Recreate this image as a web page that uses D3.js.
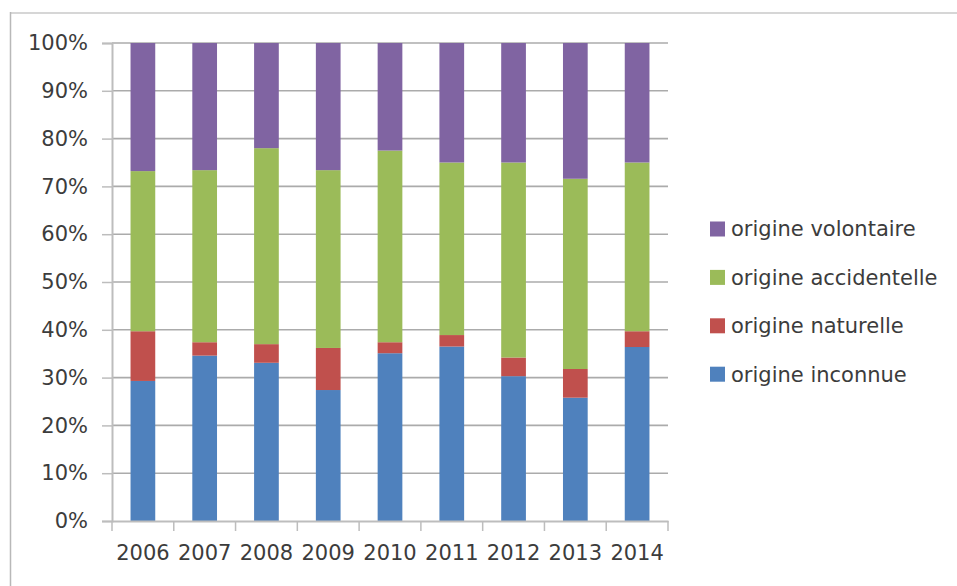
<!DOCTYPE html>
<html>
<head>
<meta charset="utf-8">
<script src="https://cdn.jsdelivr.net/npm/d3@7"></script>
<style>
  html, body { margin: 0; padding: 0; background: #ffffff; }
  svg { display: block; }
  text { font-family: "DejaVu Sans", sans-serif; fill: #3c3c3c; }
</style>
</head>
<body>
<svg id="chart" width="957" height="586"></svg>
<script>
// Years on the category axis
const years = ["2006", "2007", "2008", "2009", "2010", "2011", "2012", "2013", "2014"];

// Share of fires by origin, in percent of the yearly total
const inconnue     = [29.3, 34.6, 33.1, 27.4, 35.1, 36.5, 30.3, 25.8, 36.4];
const naturelle    = [10.4,  2.8,  3.9,  8.8,  2.3,  2.4,  3.9,  6.0,  3.3];
const accidentelle = [33.5, 36.0, 41.0, 37.2, 40.1, 36.1, 40.8, 39.8, 35.3];
const volontaire   = [26.8, 26.6, 22.0, 26.6, 22.5, 25.0, 25.0, 28.4, 25.0];

// Series in stacking order (bottom to top) and their labels
const seriesKeys   = ["inconnue", "naturelle", "accidentelle", "volontaire"];
const seriesLabels = ["origine inconnue", "origine naturelle", "origine accidentelle", "origine volontaire"];
const seriesColors = ["#4f81bd", "#c0504d", "#9bbb59", "#8064a2"];

// Y axis tick values
const yTicks = [0, 10, 20, 30, 40, 50, 60, 70, 80, 90, 100];

const rows = years.map((y, i) => ({
  year: y,
  inconnue: inconnue[i],
  naturelle: naturelle[i],
  accidentelle: accidentelle[i],
  volontaire: volontaire[i]
}));

const svg = d3.select("#chart");

// Chart area frame (top and left edges)
svg.append("line").attr("x1", 10.5).attr("x2", 957).attr("y1", 13).attr("y2", 13)
  .attr("stroke", "#d6d6d6").attr("stroke-width", 2);
svg.append("line").attr("x1", 10.5).attr("x2", 10.5).attr("y1", 12).attr("y2", 586)
  .attr("stroke", "#b8b8b8").attr("stroke-width", 1.5);

const plot = { left: 112, right: 668, top: 43, bottom: 521 };

const x = d3.scaleBand()
  .domain(years)
  .range([plot.left, plot.right])
  .paddingInner(0.6)
  .paddingOuter(0.3);

const xTickScale = d3.scaleBand().domain(years).range([plot.left, plot.right]);

const y = d3.scaleLinear().domain([0, 100]).range([plot.bottom, plot.top]);

// Horizontal gridlines
svg.append("g")
  .selectAll("line")
  .data(yTicks.filter(t => t > 0))
  .join("line")
  .attr("x1", plot.left).attr("x2", plot.right)
  .attr("y1", d => y(d)).attr("y2", d => y(d))
  .attr("stroke", "#ababab").attr("stroke-width", 1.6);

// Stacked bars
const stacked = d3.stack().keys(seriesKeys)(rows);

svg.append("g")
  .selectAll("g")
  .data(stacked)
  .join("g")
  .attr("fill", (d, i) => seriesColors[i])
  .selectAll("rect")
  .data(d => d)
  .join("rect")
  .attr("x", d => x(d.data.year))
  .attr("width", x.bandwidth())
  .attr("y", d => y(d[1]))
  .attr("height", d => y(d[0]) - y(d[1]));

// Y axis
const yAxis = d3.axisLeft(y)
  .tickValues(yTicks)
  .tickFormat(d => d + "%")
  .tickSize(10)
  .tickPadding(14);

const gy = svg.append("g")
  .attr("transform", `translate(${plot.left},0)`)
  .call(yAxis);
gy.select(".domain").attr("stroke", "#bdbdbd").attr("stroke-width", 2);
gy.selectAll(".tick line").attr("stroke", "#bdbdbd").attr("stroke-width", 1.5);
gy.selectAll(".tick text")
  .style("font-family", "'DejaVu Sans', sans-serif")
  .style("font-size", "21px")
  .attr("fill", "#3c3c3c");

// X axis with ticks at category boundaries
const xAxis = d3.axisBottom(xTickScale).tickSize(0).tickPadding(24);
const gx = svg.append("g")
  .attr("transform", `translate(0,${plot.bottom})`)
  .call(xAxis);
gx.select(".domain").attr("stroke", "#bdbdbd").attr("stroke-width", 2);
gx.selectAll(".tick text")
  .style("font-family", "'DejaVu Sans', sans-serif")
  .style("font-size", "21px")
  .attr("fill", "#3c3c3c");

const boundaries = years.map(d => xTickScale(d)).concat([xTickScale(years[years.length - 1]) + xTickScale.bandwidth()]);
gx.append("g")
  .selectAll("line")
  .data(boundaries)
  .join("line")
  .attr("x1", d => d).attr("x2", d => d)
  .attr("y1", 0).attr("y2", 10)
  .attr("stroke", "#bdbdbd").attr("stroke-width", 1.5);

// Legend, listed top to bottom in reverse stacking order
const legendOrder = [3, 2, 1, 0];
const legend = svg.append("g");
const legendItems = legend.selectAll("g")
  .data(legendOrder)
  .join("g")
  .attr("transform", (d, i) => `translate(710,${229 + i * 48.4})`);

legendItems.append("rect")
  .attr("x", 0).attr("y", -7.5)
  .attr("width", 15).attr("height", 15)
  .attr("fill", d => seriesColors[d]);

legendItems.append("text")
  .attr("x", 21)
  .attr("y", 0)
  .attr("dy", "0.35em")
  .style("font-size", "21px")
  .attr("fill", "#3c3c3c")
  .text(d => seriesLabels[d]);
</script>
</body>
</html>
